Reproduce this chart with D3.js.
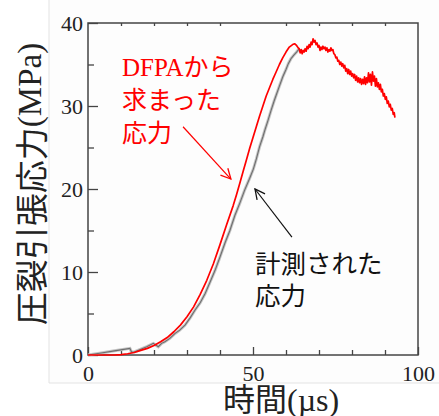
<!DOCTYPE html>
<html>
<head>
<meta charset="utf-8">
<script src="https://cdn.jsdelivr.net/npm/d3@7"></script>
</head>
<body style="margin:0">
<svg id="chart" width="439" height="416"></svg>
<script>
/* globals d3 */

// DFPA stress [time us, MPa]
const dfpaStress = [
  [0, 0], [8, 0], [10, 0.05], [12, 0.15], [14, 0.3], [16, 0.55], [18, 0.8],
  [20, 1.15], [22, 1.6], [24, 2.1], [26, 2.8], [28, 3.6], [30, 4.6], [32, 5.8],
  [34, 7.3], [36, 9.0], [38, 11.0], [40, 13.3], [42, 15.7], [44, 18.0],
  [45, 19.3], [46, 20.7], [47, 22.1], [48, 23.5], [49, 24.9], [50, 26.2],
  [51, 27.5], [52, 28.8], [53, 30.0], [54, 31.2], [55, 32.2], [56, 33.2],
  [57, 34.1], [58, 35.0], [59, 35.8], [60, 36.5], [61, 37.1], [62, 37.4],
  [62.6, 37.5], [63.2, 37.3], [63.7, 37.0],
  [64.0, 36.9], [64.3, 36.4], [64.6, 36.8], [64.9, 36.3], [65.2, 36.7],
  [65.5, 36.5], [65.8, 36.9], [66.1, 36.6], [66.4, 37.2], [66.7, 36.9],
  [67.0, 37.4], [67.3, 37.1], [67.6, 37.7], [67.9, 37.4], [68.2, 38.1],
  [68.5, 37.7], [68.8, 37.9], [69.1, 37.4], [69.4, 37.6], [69.7, 37.1],
  [70.0, 37.3], [70.3, 36.7], [70.6, 37.1], [70.9, 36.8], [71.2, 37.2],
  [71.5, 36.9], [71.8, 37.1], [72.1, 36.7], [72.4, 37.0], [72.7, 36.5],
  [73.0, 36.8], [73.3, 36.6], [73.6, 37.0], [73.9, 36.7], [74.2, 36.8],
  [74.5, 36.3], [74.8, 36.2], [75.1, 35.8], [75.4, 35.9], [75.7, 35.4],
  [76.0, 35.5], [76.3, 35.0], [76.6, 35.3], [76.9, 34.8], [77.2, 35.1],
  [77.5, 34.6], [77.8, 34.9], [78.1, 34.2], [78.4, 34.5], [78.7, 33.9],
  [79.0, 34.4], [79.3, 33.8], [79.6, 34.2], [79.9, 33.6], [80.2, 33.9],
  [80.5, 33.4], [80.8, 33.8], [81.1, 33.1], [81.4, 33.6], [81.7, 32.9],
  [82.0, 33.4], [82.3, 32.8], [82.6, 33.3], [82.9, 32.6], [83.2, 33.2],
  [83.5, 32.7], [83.8, 33.5], [84.1, 32.6], [84.4, 33.4], [84.7, 32.8],
  [85.0, 34.0], [85.3, 32.9], [85.6, 33.8], [85.9, 32.5], [86.2, 34.1],
  [86.5, 33.0], [86.8, 33.6], [87.1, 32.4], [87.4, 33.3], [87.7, 32.3],
  [88.0, 32.8], [88.3, 32.0], [88.6, 32.6], [88.9, 31.7], [89.2, 32.0],
  [89.5, 31.2], [89.8, 31.5], [90.1, 30.8], [90.4, 31.1], [90.7, 30.3],
  [91.0, 30.6], [91.3, 29.9], [91.6, 30.2], [91.9, 29.5], [92.2, 29.7],
  [92.5, 29.0], [92.8, 29.2], [93.0, 28.6]
];

// measured stress [time us, MPa]
const measuredStress = [
  [0, 0], [4, 0.25], [8, 0.5], [12.7, 0.8], [13.2, 0.35], [14.2, 0.4],
  [16, 0.7], [17.8, 1.0], [19.8, 1.4], [21.3, 1.0], [22.3, 1.4], [23.3, 1.6],
  [24.8, 2.0], [26.4, 2.6], [27.8, 3.0], [29.4, 3.6], [31, 4.5], [32.4, 5.4],
  [34, 6.3], [35.5, 7.4], [37, 8.8], [38.5, 10.2], [40, 11.8], [41.5, 13.5],
  [43, 15.0], [44.5, 16.8], [46, 18.3], [47.5, 19.9], [49, 21.3], [50.1, 22.4],
  [51, 23.6], [52, 25.1], [53, 26.3], [53.6, 27.1], [54.5, 28.2], [55.5, 29.5],
  [56.4, 30.6], [57.2, 31.5], [58, 32.4], [59, 33.5], [60, 34.4], [60.7, 35.1],
  [61.5, 35.7], [62.3, 36.1], [63.2, 36.5], [64.0, 36.9]
];

const xMajorTicks = [0, 50, 100];
const xMinorTicks = [10, 20, 30, 40, 60, 70, 80, 90];
const yMajorTicks = [0, 10, 20, 30, 40];
const yMinorTicks = [5, 15, 25, 35];

const yTitle = ['圧裂引張応力', '(MPa)'];
const xTitle = ['時間', '(µs)'];
const dfpaNote = ['DFPAから', '求まった', '応力'];
const measuredNote = ['計測された', '応力'];

// annotation anchors in data units
const dfpaArrow = { from: [28.8, 27.5], to: [43.3, 21.2] };
const measuredArrow = { from: [61.8, 14.2], to: [50.6, 20.0] };
const dfpaNotePos = [10.3, 33.6];
const measuredNotePos = [50.6, 9.9];

const serif = "'Liberation Serif'";
const gothic = "'Noto Sans CJK JP'";

const svg = d3.select('#chart');

const x = d3.scaleLinear().domain([0, 100]).range([88, 418]);
const y = d3.scaleLinear().domain([0, 40]).range([355, 23]);

/* pasted image backdrop */
svg.append('rect')
  .attr('x', 49).attr('y', 0).attr('width', 390).attr('height', 383)
  .attr('fill', '#fdfdfd');
svg.append('path')
  .attr('d', 'M49,0 V383 H439')
  .attr('fill', 'none')
  .attr('stroke', '#e3e3e3')
  .attr('stroke-width', 1);

/* axes */
svg.append('g')
  .attr('transform', `translate(${x(0)},0)`)
  .call(d3.axisLeft(y).tickValues(yMajorTicks).tickSize(-10).tickPadding(5));

svg.append('g')
  .attr('transform', `translate(${x(0)},0)`)
  .call(d3.axisLeft(y).tickValues(yMinorTicks).tickSize(-6).tickFormat(''));

svg.append('g')
  .attr('transform', `translate(0,${y(0)})`)
  .call(d3.axisBottom(x).tickValues(xMajorTicks).tickSize(-8).tickPadding(10));

svg.append('g')
  .attr('transform', `translate(0,${y(0)})`)
  .call(d3.axisBottom(x).tickValues(xMinorTicks).tickSize(-5).tickFormat(''));

svg.append('g')
  .attr('transform', `translate(0,${y(40)})`)
  .call(d3.axisTop(x).tickValues(xMinorTicks).tickSize(-3).tickFormat(''));

svg.selectAll('.domain').remove();
svg.selectAll('g').attr('font-family', null);
svg.selectAll('.tick line').attr('stroke', '#444').attr('stroke-width', 1.3);
svg.selectAll('.tick text')
  .style('font-family', serif)
  .attr('font-size', 22)
  .attr('fill', '#222');

/* frame */
svg.append('rect')
  .attr('x', x(0)).attr('y', y(40))
  .attr('width', x(100) - x(0)).attr('height', y(0) - y(40))
  .attr('fill', 'none')
  .attr('stroke', '#444')
  .attr('stroke-width', 1.5);

/* lines */
const line = d3.line().x(d => x(d[0])).y(d => y(d[1]));

svg.append('path')
  .datum(measuredStress)
  .attr('d', line)
  .attr('fill', 'none')
  .attr('stroke', '#c4c4c4')
  .attr('stroke-width', 3);

svg.append('path')
  .datum(measuredStress)
  .attr('d', line)
  .attr('fill', 'none')
  .attr('stroke', '#6e6e6e')
  .attr('stroke-width', 1.1);

svg.append('path')
  .datum(dfpaStress)
  .attr('d', line)
  .attr('fill', 'none')
  .attr('stroke', '#ff0000')
  .attr('stroke-width', 1.7)
  .attr('stroke-linejoin', 'round');

/* axis titles */
const yt = svg.append('text')
  .attr('transform', 'translate(30,184) rotate(-90)')
  .attr('text-anchor', 'middle')
  .attr('dominant-baseline', 'central')
  .attr('font-size', 33)
  .attr('fill', '#222');
yt.append('tspan').style('font-family', gothic).text(yTitle[0]);
yt.append('tspan').style('font-family', serif).text(yTitle[1]);

const xt = svg.append('text')
  .attr('x', 223)
  .attr('y', 411)
  .attr('font-size', 32)
  .attr('fill', '#222');
xt.append('tspan').style('font-family', gothic).text(xTitle[0]);
xt.append('tspan').style('font-family', serif).text(xTitle[1]);

/* arrows */
const defs = svg.append('defs');
const addHead = (id, color) => {
  defs.append('marker')
    .attr('id', id)
    .attr('viewBox', '0 0 12 12')
    .attr('refX', 11).attr('refY', 6)
    .attr('markerWidth', 12).attr('markerHeight', 12)
    .attr('markerUnits', 'userSpaceOnUse')
    .attr('orient', 'auto')
    .append('path')
    .attr('d', 'M1,1 L11,6 L1,11')
    .attr('fill', 'none')
    .attr('stroke', color)
    .attr('stroke-width', 1.3);
};
addHead('head-red', '#ff0000');
addHead('head-black', '#111');

const drawArrow = (a, color, head) => {
  svg.append('line')
    .attr('x1', x(a.from[0])).attr('y1', y(a.from[1]))
    .attr('x2', x(a.to[0])).attr('y2', y(a.to[1]))
    .attr('stroke', color)
    .attr('stroke-width', 1.2)
    .attr('marker-end', `url(#${head})`);
};
drawArrow(dfpaArrow, '#ff0000', 'head-red');
drawArrow(measuredArrow, '#111', 'head-black');

/* notes */
const redNote = svg.append('text')
  .attr('x', x(dfpaNotePos[0]))
  .attr('y', y(dfpaNotePos[1]))
  .attr('font-size', 25)
  .attr('fill', '#ff0000');
redNote.append('tspan').style('font-family', serif)
  .attr('x', x(dfpaNotePos[0])).text(dfpaNote[0].slice(0, 4));
redNote.append('tspan').style('font-family', gothic).text(dfpaNote[0].slice(4));
dfpaNote.slice(1).forEach(s => {
  redNote.append('tspan').style('font-family', gothic)
    .attr('x', x(dfpaNotePos[0]))
    .attr('dy', 33)
    .text(s);
});

const blackNote = svg.append('text')
  .attr('x', x(measuredNotePos[0]))
  .attr('y', y(measuredNotePos[1]))
  .style('font-family', gothic)
  .attr('font-size', 25.5)
  .attr('fill', '#111');
measuredNote.forEach((s, i) => {
  blackNote.append('tspan')
    .attr('x', x(measuredNotePos[0]))
    .attr('dy', i === 0 ? 0 : 32)
    .text(s);
});
</script>
</body>
</html>
